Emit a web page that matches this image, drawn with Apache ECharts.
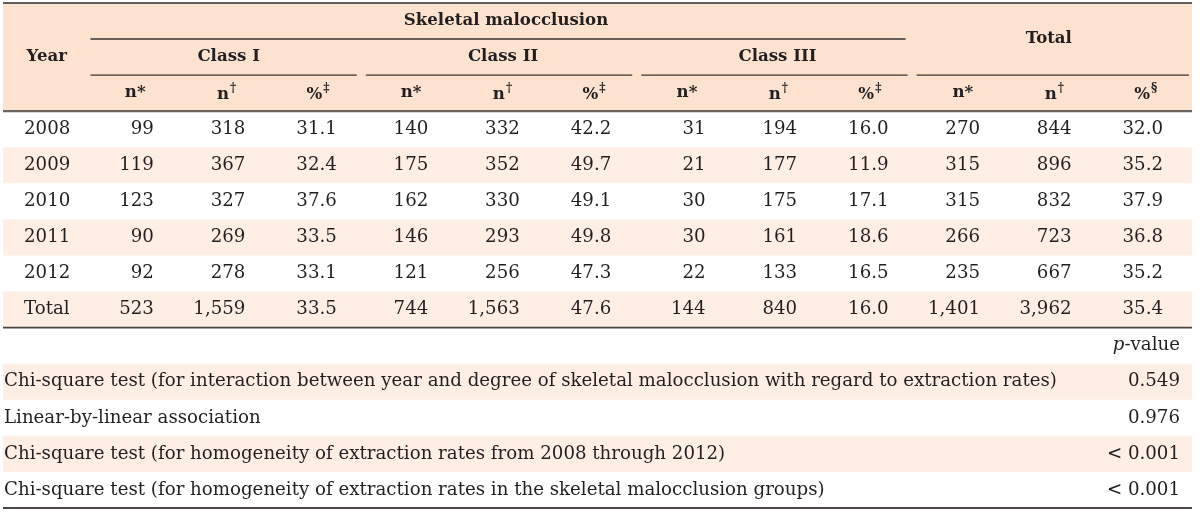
<!DOCTYPE html>
<html>
<head>
<meta charset="utf-8">
<script src="https://cdn.jsdelivr.net/npm/echarts@6/dist/echarts.min.js"></script>
<style>html,body{margin:0;padding:0;background:#fff}#c{width:1200px;height:512px}</style>
</head>
<body>
<div id="c"></div>
<script>
// ---------- data ----------
var years = ['2008', '2009', '2010', '2011', '2012', 'Total'];
var classINext = [99, 119, 123, 90, 92, 523];
var classINtot = [318, 367, 327, 269, 278, 1559];
var classIPct = [31.1, 32.4, 37.6, 33.5, 33.1, 33.5];
var classIINext = [140, 175, 162, 146, 121, 744];
var classIINtot = [332, 352, 330, 293, 256, 1563];
var classIIPct = [42.2, 49.7, 49.1, 49.8, 47.3, 47.6];
var classIIINext = [31, 21, 30, 30, 22, 144];
var classIIINtot = [194, 177, 175, 161, 133, 840];
var classIIIPct = [16.0, 11.9, 17.1, 18.6, 16.5, 16.0];
var totalNext = [270, 315, 315, 266, 235, 1401];
var totalNtot = [844, 896, 832, 723, 667, 3962];
var totalPct = [32.0, 35.2, 37.9, 36.8, 35.2, 35.4];
var groupNames = ['Class I', 'Class II', 'Class III'];
var spanTitle = 'Skeletal malocclusion';
var totalTitle = 'Total';
var yearTitle = 'Year';
var testNames = [
  'Chi-square test (for interaction between year and degree of skeletal malocclusion with regard to extraction rates)',
  'Linear-by-linear association',
  'Chi-square test (for homogeneity of extraction rates from 2008 through 2012)',
  'Chi-square test (for homogeneity of extraction rates in the skeletal malocclusion groups)'
];
var pValues = ['0.549', '0.976', '< 0.001', '< 0.001'];

// ---------- layout helpers ----------
var FONT = '"DejaVu Serif", serif';
var FS = 18.2;
var FSB = 16.6;
var TXT = '#231f20';
var HEAD_BG = '#fde3cf';
var ALT_BG = '#feeee3';

var colKeys = [];
for (var i = 0; i < 13; i++) colKeys.push('c' + i);
var rowKeys = [];
for (var j = 0; j < 14; j++) rowKeys.push('r' + j);

function fmt(v) { return String(v).replace(/\B(?=(\d{3})+(?!\d))/g, ','); }
function fmtPct(v) { return v.toFixed(1); }

var cells = [];
function addCell(col, row, text, opt) {
  opt = opt || {};
  cells.push({ col: col, row: row, colSpan: opt.colSpan || 1, rowSpan: opt.rowSpan || 1,
    text: text, align: opt.align || 'center', bold: !!opt.bold, rich: opt.rich, dx: opt.dx || 0 });
}

// header
addCell(0, 0, yearTitle, { rowSpan: 3, bold: true, dx: -2 });
addCell(1, 0, spanTitle, { colSpan: 9, bold: true });
groupNames.forEach(function (g, k) { addCell(1 + 3 * k, 1, g, { colSpan: 3, bold: true, dx: -3 }); });
addCell(10, 0, totalTitle, { colSpan: 3, rowSpan: 2, bold: true, dx: -6 });
for (var g = 0; g < 4; g++) {
  var dx = -5 + g * 1.5;
  addCell(1 + 3 * g, 2, 'n*', { bold: true, dx: dx });
  addCell(2 + 3 * g, 2, '{b|n}{s|\u2020}', { rich: true, dx: dx });
  addCell(3 + 3 * g, 2, g < 3 ? '{b|%}{s|\u2021}' : '{b|%}{s|\u00a7}', { rich: true, dx: dx });
}
// body
var series12 = [
  [classINext, fmt], [classINtot, fmt], [classIPct, fmtPct],
  [classIINext, fmt], [classIINtot, fmt], [classIIPct, fmtPct],
  [classIIINext, fmt], [classIIINtot, fmt], [classIIIPct, fmtPct],
  [totalNext, fmt], [totalNtot, fmt], [totalPct, fmtPct]
];
years.forEach(function (y, r) {
  addCell(0, 3 + r, y, { align: 'left' });
  series12.forEach(function (s, c) {
    addCell(1 + c, 3 + r, s[1](s[0][r]), { align: 'right', dx: c < 6 ? -3 : 0 });
  });
});
// p-value section
addCell(12, 9, '{i|p}{n|-value}', { rich: true, align: 'end' });
testNames.forEach(function (t, k) {
  addCell(0, 10 + k, t, { align: 'start' });
  addCell(12, 10 + k, pValues[k], { align: 'end' });
});

// background bands: [rowStart, rowEnd, color]
var bands = [[0, 2, HEAD_BG], [4, 4, ALT_BG], [6, 6, ALT_BG], [8, 8, ALT_BG], [10, 10, ALT_BG], [12, 12, ALT_BG]];
var rules = [
  { row: 0, top: true, full: true, w: 1.6, color: '#2b2b2b' },
  { row: 0, c0: 1, c1: 9, w: 1.4, color: '#3a3532', inset: 8, shift: -4 },
  { row: 1, c0: 1, c1: 3, w: 1.4, color: '#3a3532', inset: 8, shift: -4 },
  { row: 1, c0: 4, c1: 6, w: 1.4, color: '#3a3532', inset: 8, shift: -3 },
  { row: 1, c0: 7, c1: 9, w: 1.4, color: '#3a3532', inset: 8, shift: -2 },
  { row: 1, c0: 10, c1: 12, w: 1.4, color: '#3a3532', inset: 2, shift: -1 },
  { row: 2, full: true, w: 2.2, color: '#6a6560' },
  { row: 8, full: true, w: 1.8, color: '#4a4542' },
  { row: 13, full: true, w: 1.8, color: '#4a4542' }
];

var chart = echarts.init(document.getElementById('c'), null, { renderer: 'canvas' });

function bandRender(params, api) {
  var b = bands[api.value(2)];
  var cs = params.coordSys;
  var p0 = api.coord([0, b[0]]);
  var p1 = api.coord([0, b[1]]);
  var h = api.size([1, 1])[1];
  return { type: 'rect', shape: { x: cs.x, y: p0[1] - h / 2, width: cs.width, height: p1[1] - p0[1] + h },
    style: { fill: b[2] } };
}
function ruleRender(params, api) {
  var r = rules[api.value(2)];
  var cs = params.coordSys;
  var sz = api.size([1, 1]);
  var p = api.coord([0, r.row]);
  var y = r.top ? p[1] - sz[1] / 2 : p[1] + sz[1] / 2;
  var x0, x1;
  if (r.full) { x0 = cs.x; x1 = cs.x + cs.width; }
  else {
    x0 = api.coord([r.c0, 0])[0] - sz[0] / 2 + r.shift;
    x1 = api.coord([r.c1, 0])[0] + sz[0] / 2 - r.inset + r.shift;
  }
  return { type: 'line', shape: { x1: x0, y1: y, x2: x1, y2: y }, style: { stroke: r.color, lineWidth: r.w } };
}
function cellRender(params, api) {
  var c = cells[api.value(2)];
  var cs = params.coordSys;
  var sz = api.size([1, 1]);
  var a = api.coord([c.col, c.row]);
  var b = api.coord([c.col + c.colSpan - 1, c.row + c.rowSpan - 1]);
  var cx = (a[0] + b[0]) / 2, cy = (a[1] + b[1]) / 2;
  var x = cx, align = 'center';
  if (c.align === 'right') { x = b[0] + sz[0] / 2 - 29; align = 'right'; }
  else if (c.align === 'left') { x = a[0] - sz[0] / 2 + 21; align = 'left'; }
  else if (c.align === 'start') { x = cs.x + 1; align = 'left'; }
  else if (c.align === 'end') { x = cs.x + cs.width - 12; align = 'right'; }
  x += c.dx;
  var style = {
    x: x, y: cy, text: c.text, align: align, verticalAlign: 'middle', fill: TXT,
    font: (c.bold ? 'bold ' + FSB : FS) + 'px ' + FONT
  };
  if (c.rich) {
    style.rich = {
      b: { font: 'bold ' + FSB + 'px ' + FONT, fill: TXT, lineHeight: 20, verticalAlign: 'bottom' },
      s: { font: 'bold 12px ' + FONT, fill: TXT, lineHeight: 20, verticalAlign: 'top', padding: [0, 0, 8, 1] },
      i: { font: 'italic ' + FS + 'px ' + FONT, fill: TXT, lineHeight: 20 },
      n: { font: FS + 'px ' + FONT, fill: TXT, lineHeight: 20 }
    };
  }
  return { type: 'text', style: style };
}

var idxData = function (arr) { return arr.map(function (d, i) { return [0, 0, i]; }); };

chart.setOption({
  animation: false,
  grid: { left: 3, right: 8, top: 3, bottom: 4, containLabel: false },
  xAxis: { type: 'category', data: colKeys, show: false, boundaryGap: true },
  yAxis: { type: 'category', data: rowKeys, show: false, inverse: true, boundaryGap: true },
  series: [
    { type: 'custom', renderItem: bandRender, data: idxData(bands), clip: false, z: 1, silent: true },
    { type: 'custom', renderItem: ruleRender, data: idxData(rules), clip: false, z: 2, silent: true },
    { type: 'custom', renderItem: cellRender, data: cells.map(function (c, i) { return [c.col, c.row, i]; }), clip: false, z: 3, silent: true }
  ]
});
</script>
</body>
</html>
